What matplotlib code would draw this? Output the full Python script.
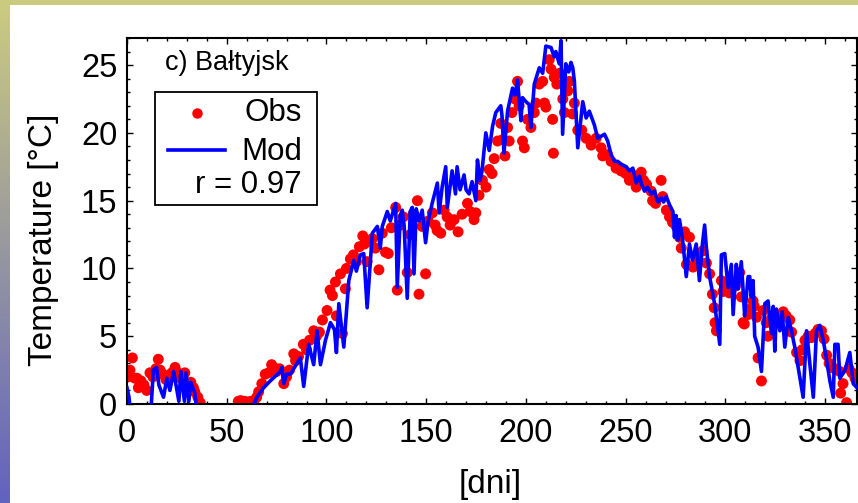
import numpy as np
import matplotlib
matplotlib.use("Agg")
import matplotlib.pyplot as plt
from matplotlib.patches import Rectangle
from matplotlib.ticker import MultipleLocator

plt.rcParams['font.family'] = ['Liberation Sans', 'DejaVu Sans']

obs_day = [0.5, 1.5, 2.7, 4, 5, 5.7, 7, 8.5, 9.9, 11.5, 13, 14.5, 15.7, 16.6, 18, 19.5,
           20.8, 22.5, 24.1, 25.5, 27, 29, 30.5, 32, 33.3, 34, 35.5, 36.7, 40, 45, 50, 53,
           55.8, 57, 59, 62, 63.5, 65, 66, 67.6, 69.3, 71, 72.5, 73.5, 75, 76.5, 78.6, 80,
           81.5, 83.6, 84.5, 86, 88.4, 90, 91.5, 93.6, 95, 96.5, 98, 100.3, 101.8, 103,
           104.5, 105, 107, 108, 109.5, 110, 112, 113.5, 115, 116.5, 118.2, 119, 120.4,
           121.5, 123, 124.5, 126.3, 128, 129.6, 131, 132.5, 134.7, 135.5, 137, 138.5,
           140.5, 142, 143.5, 145.6, 146.4, 148, 149.7, 151, 153.1, 154.5, 155.5, 157.3,
           159, 160.5, 162, 164, 166, 168, 170.7, 172, 174, 174.9, 176.5, 178.2, 180,
           181.6, 183, 184.1, 185.8, 187.4, 188.3, 189.5, 190.8, 191.6, 193, 194.5, 195.8,
           196.6, 198.3, 199.2, 200.8, 202.5, 204.2, 205, 206.7, 208.4, 209.3, 210, 211.7,
           212.6, 213.4, 213.8, 214.2, 215.5, 217, 218.5, 219.3, 221, 221.8, 223.4, 224.3,
           226, 228, 230.2, 232.7, 235.2, 237.7, 238.5, 241, 242.7, 245.2, 247.7, 250,
           251.9, 253.5, 255.3, 257.8, 259, 260.5, 262.8, 263.5, 265, 267.8, 268.6, 270.4,
           272, 273.5, 275.4, 277, 277.9, 279.6, 280.5, 282, 283.8, 285.5, 287, 288.7,
           290.5, 292.1, 293.5, 294.4, 294.8, 295.5, 298, 298.8, 300.5, 302, 305, 307.2,
           308, 308.9, 309.5, 311.4, 312.5, 313.9, 314.5, 315.6, 316.4, 318.1, 319, 320.5,
           321.4, 323, 324.8, 326.5, 329, 330.5, 332.3, 333.2, 335.7, 337.4, 338.5, 339.9,
           341.5, 343.2, 345, 346.5, 348.2, 349.5, 350.8, 352, 353.3, 355, 357.4, 357.8,
           359, 360.8, 362, 363.5, 365]
obs_temp = [2.0, 2.5, 3.4, 1.9, 1.9, 1.2, 1.7, 1.4, 1.0, 2.3, 2.0, 2.6, 3.3, 2.5, 2.2, 1.8,
            2.1, 2.3, 2.7, 2.3, 1.9, 2.3, 1.5, 1.6, 1.2, 0.9, 0.5, 0.1, -1.5, -2.0, -1.5, -0.5,
            0.2, 0.25, 0.2, 0.2, 0.1, 0.5, 0.9, 1.5, 2.2, 2.3, 2.9, 2.7, 2.4, 2.6, 1.5, 2.0,
            2.5, 3.7, 3.2, 3.5, 4.4, 4.0, 4.7, 5.4, 5.0, 5.3, 6.2, 6.9, 8.4, 8.0,
            9.0, 6.5, 9.6, 5.2, 8.5, 10.0, 10.7, 11.0, 10.5, 11.6, 12.4, 11.8, 10.5,
            12.0, 12.2, 11.5, 9.9, 12.6, 11.2, 11.1, 13.0, 14.5, 8.4, 13.2, 13.8,
            9.7, 12.5, 14.0, 15.0, 8.1, 13.1, 9.6, 13.5, 14.1, 13.2, 12.8, 12.6,
            14.3, 13.8, 13.2, 13.6, 12.7, 14.0, 14.8, 14.2, 13.6, 14.1, 15.4, 16.5, 16.0,
            17.3, 17.0, 18.1, 19.4, 20.7, 19.5, 18.3, 20.4, 19.4, 21.5, 22.5, 23.8,
            22.0, 19.4, 18.9, 21.0, 20.4, 21.5, 22.2, 23.6, 23.8, 22.2, 21.9, 25.4,
            24.7, 21.0, 18.5, 24.1, 23.6, 24.4, 22.5, 21.5, 23.1, 23.8, 21.4, 22.2,
            20.2, 20.2, 19.6, 19.1, 19.6, 18.9, 18.3, 18.4, 17.9, 17.4, 17.2, 17.0,
            16.5, 16.9, 16.0, 17.1, 16.5, 16.2, 15.7, 15.0, 14.8, 16.5, 15.3, 14.3,
            13.8, 13.4, 13.1, 12.3, 11.5, 12.7, 10.3, 12.3, 10.1, 10.8, 10.5, 11.3,
            10.4, 9.6, 8.1, 7.1, 6.0, 5.4, 9.1, 8.3, 8.6, 8.2, 8.7, 9.7,
            7.9, 6.0, 5.9, 6.6, 7.0, 7.6, 7.2, 6.4, 3.4, 1.7, 6.9, 6.0,
            5.0, 6.3, 6.6, 6.2, 6.8, 6.5, 6.2, 5.3, 3.8, 3.2, 4.0, 4.7,
            5.0, 4.9, 5.2, 5.5, 5.4, 4.8, 3.6, 3.0, 2.7, 2.6, 2.4, 0.8,
            1.5, 0.1, 2.6, 2.3, 1.9]

# model temperature
mod_day = [0, 1, 2, 4, 8, 12, 13.2, 14.8, 16, 18.3, 20, 21.5, 23.4, 26, 27, 28.8, 29.6, 31,
           32, 34, 35, 40, 45, 50, 55, 60, 63, 65, 68.5, 71.8, 74, 76.9, 77.7, 78.6, 80,
           81.9, 84, 86.9, 88.6, 91.1, 93.6, 95.3, 97, 99.5, 102, 104, 105, 106.2, 108.7,
           111.2, 113.7, 115, 117, 118.7, 120.4, 123, 125.5, 127, 128, 130.5, 132, 134.7,
           135.5, 137, 138, 139, 140.5, 142, 143, 143.9, 145, 146.5, 148, 149.7, 151, 153,
           155.6, 156.5, 158, 159.8, 160.6, 163, 164.7, 165.5, 167, 169, 170, 171.5, 173,
           174.9, 175.7, 177, 178, 179.9, 181.6, 183.3, 184.9, 187.4, 188, 189, 190.8,
           193.3, 194.5, 195.8, 197.5, 198.3, 200, 201.6, 202.5, 204.2, 206.7, 208.4, 210,
           212.6, 214.2, 215, 216.7, 217.6, 218.4, 220, 221.5, 222.6, 223.5, 224.3, 226,
           228.5, 230.2, 231.8, 234.3, 236, 239.4, 241, 242.7, 244.4, 246, 247.7, 250.3,
           251.9, 253.6, 255.3, 257, 258, 259.5, 261, 262.8, 264.5, 266.2, 268, 269, 270.4,
           272, 273.7, 274.5, 275.3, 276.2, 277, 278.5, 280.4, 282, 283.5, 285.4, 287,
           288.5, 289.6, 290.5, 292.1, 294.6, 297.2, 298, 299.7, 301.4, 303, 303.9, 305.5,
           306.5, 308, 309.7, 311.4, 312.2, 313, 313.9, 314.7, 316.4, 318.1, 319.8, 321.4,
           323.1, 324, 324.8, 325.6, 327.3, 328.5, 329.8, 331.5, 333, 334.8, 339, 340.7,
           342.4, 344.1, 345.7, 347.4, 349.1, 350.8, 352.4, 354.1, 354.9, 356.5, 357.4,
           360, 362.4, 364.1, 366]
mod_temp = [1.2, 0.5, -1.0, -1.5, -2.0, -0.5, 2.5, 2.7, 1.4, 0.5, 1.9, 1.0, 2.4, 0.2, 2.4, 0.2, 2.3, 0.2,
            1.6, 0.8, -0.5, -2.0, -3.0, -2.0, -1.5, -1.0, -0.3, 0.47, 1.2, 1.7, 2.0, 2.4, 2.7, 1.5, 2.2,
            2.2, 2.7, 3.4, 1.3, 4.4, 2.9, 5.4, 2.9, 4.7, 6.0, 5.5, 3.8, 7.4, 4.2,
            9.1, 10.6, 9.8, 11.0, 11.1, 7.1, 12.6, 13.1, 11.5, 13.1, 14.2, 13.5, 14.8,
            8.6, 13.9, 14.3, 13.0, 7.8, 14.2, 14.5, 9.6, 14.4, 13.5, 14.3, 11.9, 13.5, 14.8,
            16.3, 14.1, 16.0, 17.5, 14.5, 17.2, 15.5, 17.5, 15.8, 16.9, 15.8, 15.5, 16.4,
            15.0, 18.0, 16.5, 17.2, 20.0, 18.7, 20.5, 21.5, 22.0, 21.3, 18.5, 21.6,
            23.3, 22.8, 23.9, 20.9, 22.6, 22.3, 22.1, 20.4, 23.6, 24.8, 24.4, 26.4,
            26.3, 25.6, 26.0, 25.1, 26.8, 19.9, 25.1, 24.5, 25.2, 24.8, 23.8, 18.9,
            22.3, 21.1, 21.6, 20.6, 19.6, 19.9, 19.4, 18.4, 17.9, 17.9, 17.7, 17.5,
            17.2, 17.4, 16.3, 16.8, 16.2, 15.7, 16.0, 15.5, 15.7, 14.9, 15.2, 14.9, 15.3,
            14.7, 14.2, 12.3, 13.9, 12.1, 13.6, 12.2, 9.4, 11.8, 10.6, 11.8, 9.1,
            11.8, 13.2, 11.5, 9.4, 7.4, 4.4, 11.0, 11.1, 8.6, 10.3, 6.6, 10.3,
            8.5, 10.5, 6.5, 9.4, 9.4, 7.9, 9.1, 5.0, 4.2, 2.4, 7.4, 7.6,
            5.2, 7.2, 3.9, 7.0, 5.4, 6.8, 4.2, 6.4, 5.5, 4.2, 0.5, 5.4,
            2.9, 0.5, 5.4, 5.8, 4.7, 3.2, 1.7, 0.5, 4.4, 4.4, 1.9,
            2.5, 3.8, 1.5, 1.2]

fig = plt.figure(figsize=(8.58, 5.03), dpi=100)
fig.patch.set_facecolor('white')

# decorative frame: olive band on top, gradient stripe on the left
fig.patches.append(Rectangle((0, 1 - 5 / 503), 1, 5 / 503, transform=fig.transFigure,
                             facecolor='#cbcb80', edgecolor='none', zorder=0))
grad_ax = fig.add_axes([0, 0, 10 / 858, 1 - 5 / 503])
top_c = np.array([203, 203, 128]) / 255
bot_c = np.array([98, 98, 192]) / 255
t = np.linspace(0, 1, 256)[:, None]
grad = (top_c[None, :] * (1 - t) + bot_c[None, :] * t)[:, None, :]
grad_ax.imshow(grad, aspect='auto', extent=[0, 1, 0, 1])
grad_ax.set_axis_off()

ax = fig.add_axes([127 / 858, 99 / 503, 730 / 858, 366 / 503])
ax.scatter(obs_day, obs_temp, s=62, color='#ff0000', edgecolors='none', zorder=2)
ax.plot(mod_day, mod_temp, color='#0000ff', lw=2.6, zorder=3)

ax.set_xlim(0, 366)
ax.set_ylim(0, 27)
ax.xaxis.set_major_locator(MultipleLocator(50))
ax.xaxis.set_minor_locator(MultipleLocator(10))
ax.yaxis.set_major_locator(MultipleLocator(5))
ax.yaxis.set_minor_locator(MultipleLocator(1))
ax.tick_params(which='both', direction='in', top=True, right=True, width=1, colors='black')
ax.tick_params(which='major', length=4, labelsize=23.5)
ax.tick_params(which='minor', length=2)
ax.tick_params(axis='x', pad=10)
ax.tick_params(axis='y', pad=7)
for sp in ax.spines.values():
    sp.set_linewidth(1.5)

ax.set_xlabel('[dni]', fontsize=24, va='center')
ax.xaxis.set_label_coords(0.497, -0.221)
ax.set_ylabel('Temperature [°C]', fontsize=24, va='center')
ax.yaxis.set_label_coords(-0.115, 0.448)

ax.text(0.052, 0.931, 'c) Bałtyjsk', transform=ax.transAxes, fontsize=19.5, va='center', ha='left')

# hand-made legend box
ax.add_patch(Rectangle((0.038, 0.544), 0.222, 0.308, transform=ax.transAxes, fill=False,
                       edgecolor='black', lw=1.3, zorder=5))
ax.plot([0.0955], [0.796], 'o', color='#ff0000', ms=7.5, mec='none', transform=ax.transAxes, zorder=6)
ax.plot([0.056, 0.134], [0.694, 0.694], color='#0000ff', lw=2.6, transform=ax.transAxes, zorder=6)
ax.text(0.240, 0.795, 'Obs', transform=ax.transAxes, fontsize=22.5, ha='right', va='center', zorder=6)
ax.text(0.240, 0.689, 'Mod', transform=ax.transAxes, fontsize=22.5, ha='right', va='center', zorder=6)
ax.text(0.240, 0.598, 'r = 0.97', transform=ax.transAxes, fontsize=22.5, ha='right', va='center', zorder=6)

fig.savefig('out.png', dpi=100)
